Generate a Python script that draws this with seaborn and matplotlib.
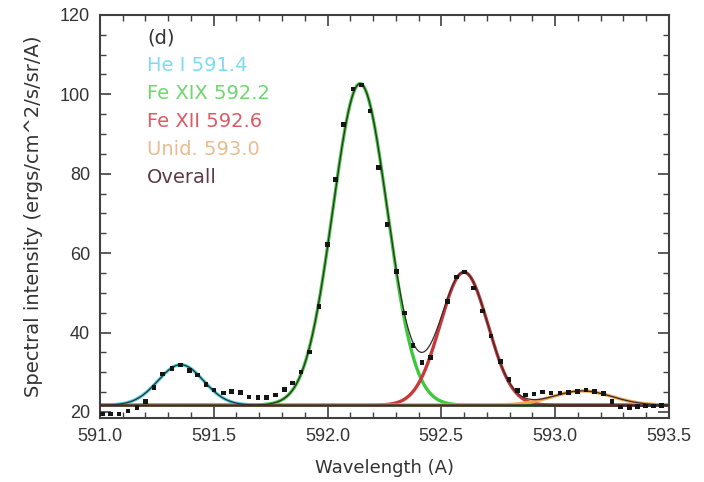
import numpy as np
import pandas as pd
import matplotlib
matplotlib.use("Agg")
import matplotlib.pyplot as plt
from matplotlib.ticker import MultipleLocator, FormatStrFormatter
import seaborn as sns

wavelength = [591.010, 591.047, 591.083, 591.124, 591.163, 591.201, 591.237, 591.276,
              591.316, 591.354, 591.393, 591.429, 591.466, 591.502, 591.542, 591.579,
              591.618, 591.655, 591.694, 591.732, 591.771, 591.810, 591.847, 591.883,
              591.921, 591.962, 591.999, 592.035, 592.071, 592.112, 592.150, 592.186,
              592.224, 592.261, 592.303, 592.339, 592.376, 592.415, 592.453, 592.528,
              592.568, 592.601, 592.642, 592.681, 592.718, 592.759, 592.798, 592.834,
              592.870, 592.907, 592.945, 592.983, 593.021, 593.060, 593.099, 593.136,
              593.174, 593.213, 593.251, 593.289, 593.327, 593.362, 593.398, 593.433,
              593.468]
intensity = [19.5, 19.5, 19.5, 20.2, 21.1, 22.6, 26.1, 29.6,
             30.9, 31.8, 30.5, 29.3, 26.9, 25.5, 24.8, 25.1,
             24.9, 23.8, 23.6, 23.6, 24.3, 25.7, 27.3, 30.1,
             35.1, 46.6, 62.2, 78.6, 92.4, 101.3, 102.4, 95.8,
             81.5, 67.2, 55.4, 44.9, 36.8, 32.5, 33.7, 47.8,
             54.0, 55.2, 51.2, 45.4, 39.1, 32.7, 28.1, 25.4,
             24.3, 24.5, 25.0, 24.8, 24.8, 24.9, 25.2, 25.5,
             25.1, 24.7, 22.6, 21.2, 21.1, 21.3, 21.5, 21.5,
             21.6]

# fitted gaussian components
line_names = ["He I 591.4", "Fe XIX 592.2", "Fe XII 592.6", "Unid. 593.0"]
line_centers = [591.355, 592.143, 592.600, 593.120]
line_amps = [10.2, 81.0, 33.5, 3.6]
line_sigmas = [0.100, 0.120, 0.105, 0.130]
background = 21.7

line_colors = ["#45d3e6", "#3ec83e", "#c83a3a", "#f0a850"]
text_colors = ["#7fdcf0", "#6fd66f", "#dc5a64", "#e8bc90", "#5e3a48"]
overall_color = "#3a2a2e"

sns.set_style("ticks")
plt.rcParams["font.family"] = ["DejaVu Sans"]

fig = plt.figure(figsize=(7.04, 4.82), dpi=100)
ax = fig.add_axes([0.142, 0.133, 0.808, 0.836])

grid = np.linspace(591.0, 593.5, 1000)
rows = []
total = np.full_like(grid, background)
for name, c, a, s in zip(line_names, line_centers, line_amps, line_sigmas):
    g = a * np.exp(-(grid - c) ** 2 / (2 * s ** 2))
    total += g
    rows.append(pd.DataFrame({"wl": grid, "val": background + g, "line": name}))
comp = pd.concat(rows, ignore_index=True)

sns.lineplot(data=comp, x="wl", y="val", hue="line", palette=line_colors,
             linewidth=2.4, legend=False, ax=ax)
ax.axhline(background, color="#333333", linewidth=1.8, zorder=3)
sns.lineplot(x=grid, y=total, color=overall_color, linewidth=0.9, ax=ax)
sns.scatterplot(x=wavelength, y=intensity, marker="s", s=11, color="#151515",
                edgecolor="none", ax=ax, zorder=5)

ax.set_xlim(591.0, 593.5)
ax.set_ylim(18.5, 120)
ax.xaxis.set_major_locator(MultipleLocator(0.5))
ax.xaxis.set_minor_locator(MultipleLocator(0.1))
ax.yaxis.set_major_locator(MultipleLocator(20))
ax.yaxis.set_minor_locator(MultipleLocator(5))
ax.xaxis.set_major_formatter(FormatStrFormatter("%.1f"))
ax.tick_params(which="both", direction="in", top=True, right=True,
               color="#404040", labelcolor="#333333")
ax.tick_params(which="major", length=8, width=1.2, pad=7)
ax.tick_params(which="minor", length=4, width=1.0)
for lab in ax.get_xticklabels() + ax.get_yticklabels():
    lab.set_fontfamily(["Liberation Sans", "DejaVu Sans"])
    lab.set_fontsize(13)
for sp in ax.spines.values():
    sp.set_color("#404040")
    sp.set_linewidth(1.5)

ax.set_xlabel("Wavelength (A)", fontsize=13, color="#333333", labelpad=10)
ax.set_ylabel("Spectral intensity (ergs/cm^2/s/sr/A)", fontsize=14,
              color="#333333", labelpad=12)

labels = ["(d)"] + line_names + ["Overall"]
colors = ["#333333"] + text_colors
for i, (lab, col) in enumerate(zip(labels, colors)):
    ax.text(0.083, 0.943 - i * 0.0695, lab, color=col, fontsize=14,
            transform=ax.transAxes, va="center", ha="left")

fig.savefig("out.png", dpi=100)
